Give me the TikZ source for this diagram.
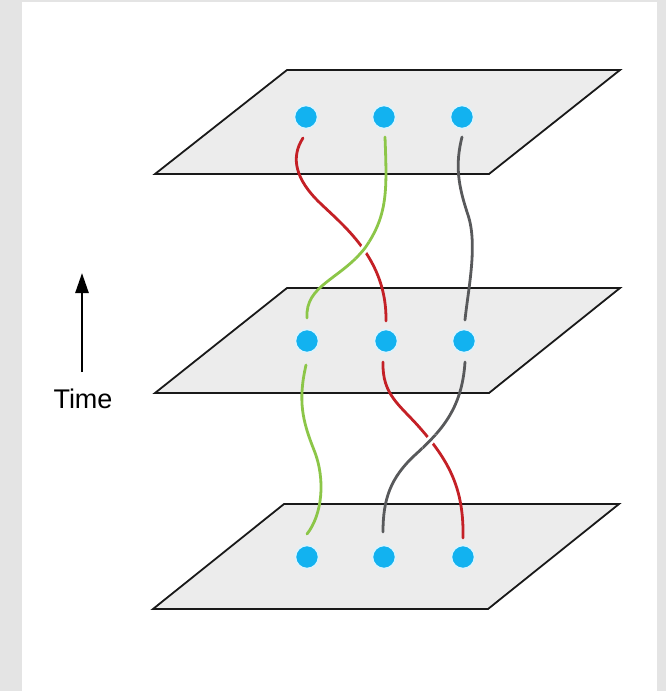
\documentclass[tikz,border=0pt]{standalone}
\usepackage{fontspec}
\setmainfont{Liberation Sans}
\usetikzlibrary{arrows.meta}
\definecolor{bgGray}{RGB}{228,228,228}
\definecolor{planeFill}{RGB}{236,236,236}
\definecolor{dotBlue}{RGB}{18,178,240}
\definecolor{strRed}{RGB}{196,32,38}
\definecolor{strGreen}{RGB}{140,198,72}
\definecolor{strGray}{RGB}{88,89,91}
\tikzset{
  plane/.style={fill=planeFill, draw=black!90, line width=1.8pt, line join=miter},
  dot/.style={circle, fill=dotBlue, draw=white!85!dotBlue, line width=1.5pt, minimum size=23pt, inner sep=0pt},
  strand/.style={line width=2.8pt, line cap=round},
  halo/.style={line width=8pt, draw=white},
}
\begin{document}
\begin{tikzpicture}[x=1pt,y=-1pt]
\useasboundingbox (0,0) rectangle (666,691);
\fill[bgGray] (0,0) rectangle (666,691);
\fill[white] (22,2) rectangle (657,691);

% planes
\draw[plane] (155,174) -- (287,70) -- (620,70) -- (489,174) -- cycle;
\draw[plane] (155,393) -- (287,288) -- (620,288) -- (489,393) -- cycle;
\draw[plane] (153,609) -- (284,504) -- (619,504) -- (488,609) -- cycle;

% dots
\node[dot] (t1) at (306,117) {};
\node[dot] (t2) at (384,117) {};
\node[dot] (t3) at (462,117) {};
\node[dot] (m1) at (307,341) {};
\node[dot] (m2) at (386,341) {};
\node[dot] (m3) at (464,341) {};
\node[dot] (b1) at (307,557) {};
\node[dot] (b2) at (384,557) {};
\node[dot] (b3) at (463,557) {};

% strand end points
\coordinate (t1s) at (303,138);
\coordinate (t2s) at (385,137);
\coordinate (t3s) at (462,137);
\coordinate (m1n) at (307,318);
\coordinate (m2n) at (386,321);
\coordinate (m3n) at (465,320);
\coordinate (m1s) at (306,365);
\coordinate (m2s) at (383,362);
\coordinate (m3s) at (465,362);
\coordinate (b1n) at (307,534);
\coordinate (b2n) at (383,532);
\coordinate (b3n) at (463,538);

% upper layer strands
\draw[strand, strRed] (t1s) .. controls (290,158) and (296,180) .. (320,203)
  .. controls (345,227) and (387,260) .. (m2n);
\draw[strand, strGray] (t3s) .. controls (455,165) and (458,185) .. (468,215)
  .. controls (478,245) and (468,290) .. (m3n);
\draw[strand, strGreen] (t2s) .. controls (387,190) and (388,215) .. (365,248)
  .. controls (340,280) and (305,285) .. (m1n);
\begin{scope}
  \clip (362,250) circle (11pt);
  \draw[halo] (t2s) .. controls (387,190) and (388,215) .. (365,248)
    .. controls (340,280) and (305,285) .. (m1n);
  \draw[strand, strGreen] (t2s) .. controls (387,190) and (388,215) .. (365,248)
    .. controls (340,280) and (305,285) .. (m1n);
\end{scope}

% lower layer strands
\draw[strand, strGreen] (m1s) .. controls (298,400) and (302,420) .. (314,450)
  .. controls (326,480) and (322,515) .. (b1n);
\draw[strand, strRed] (m2s) .. controls (382,395) and (400,405) .. (420,428)
  .. controls (450,462) and (464,490) .. (b3n);
\draw[strand, strGray] (m3s) .. controls (462,410) and (440,432) .. (415,455)
  .. controls (390,478) and (383,500) .. (b2n);
\begin{scope}
  \clip (433,445) circle (11pt);
  \draw[halo] (m3s) .. controls (462,410) and (440,432) .. (415,455)
    .. controls (390,478) and (383,500) .. (b2n);
  \draw[strand, strGray] (m3s) .. controls (462,410) and (440,432) .. (415,455)
    .. controls (390,478) and (383,500) .. (b2n);
\end{scope}

% time arrow
\coordinate (arrowFoot) at (82,372);
\coordinate (arrowTip) at (82,273);
\draw[line width=2.6pt, -{Triangle[length=20pt,width=13pt]}] (arrowFoot) -- (arrowTip);
\node[font=\fontsize{27}{30}\selectfont, anchor=base] (timeLabel) at (83,408) {Time};
\end{tikzpicture}
\end{document}
